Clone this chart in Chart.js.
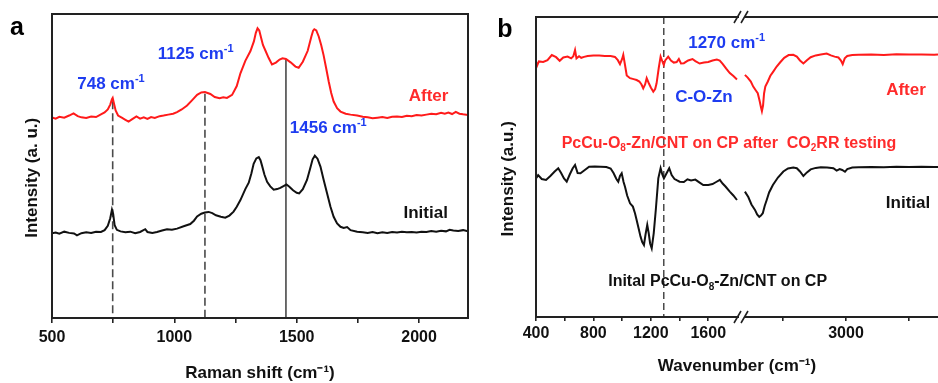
<!DOCTYPE html>
<html>
<head>
<meta charset="utf-8">
<script src="https://cdn.jsdelivr.net/npm/chart.js@4.4.1/dist/chart.umd.min.js"></script>
<style>
html,body{margin:0;padding:0;background:#fff;width:938px;height:383px;overflow:hidden}
.panel{position:absolute;top:0;height:383px}
#pa{left:0;width:480px}
#pb{left:480px;width:458px}
</style>
</head>
<body>
<div class="panel" id="pa"><canvas id="ca"></canvas></div>
<div class="panel" id="pb"><canvas id="cb"></canvas></div>
<script>
// ---------------- DATA ----------------
// Panel a : Raman spectra
const ramanAfterShift = [500,515,530,550,570,588,605,620,640,660,680,700,715,728,738,745,748,752,760,770,785,800,813,828,845,860,875,890,905,920,940,956,975,995,1011,1030,1052,1072,1093,1110,1125,1147,1165,1185,1200,1215,1236,1255,1270,1290,1311,1325,1333,1340,1347,1355,1362,1372,1385,1399,1415,1430,1442,1456,1475,1495,1508,1525,1545,1560,1567,1572,1580,1590,1600,1610,1620,1631,1641,1651,1665,1679,1700,1720,1747,1770,1790,1810,1830,1850,1870,1890,1910,1930,1950,1970,1990,2010,2030,2050,2070,2090,2105,2120,2135,2150,2165,2180,2200];
const ramanAfterIntensity = [66.0,65.6,66.2,65.9,66.6,67.3,66.4,66.0,65.8,66.3,66.1,67.0,67.6,68.6,70.2,72.0,72.4,71.0,68.3,66.6,65.9,65.2,64.6,65.4,66.3,65.6,66.0,65.5,66.1,65.8,66.4,66.6,66.9,67.2,67.7,68.6,69.9,71.6,73.4,74.2,74.3,73.7,72.7,72.3,72.6,72.4,73.4,76.3,80.5,84.6,87.8,91.0,93.8,95.3,94.6,92.0,89.8,88.0,85.6,83.4,84.0,85.0,85.4,85.2,84.1,82.7,82.3,84.3,87.9,92.6,94.5,95.0,94.6,92.6,89.8,86.4,82.3,77.7,74.0,71.2,69.0,67.9,67.2,66.9,66.6,66.2,66.0,65.7,65.9,66.1,65.8,66.2,66.3,66.1,66.5,66.4,66.8,66.6,66.9,67.2,67.0,67.5,67.2,67.6,67.1,67.8,67.2,67.0,66.8];
const ramanInitialShift = [500,515,530,550,570,590,602,620,640,660,680,700,715,728,738,745,750,756,765,780,800,820,840,860,881,890,910,929,950,970,990,1011,1038,1065,1080,1093,1110,1125,1140,1155,1170,1190,1208,1225,1242,1255,1270,1290,1304,1315,1324,1335,1345,1352,1358,1368,1379,1392,1406,1420,1433,1446,1458,1470,1485,1500,1510,1525,1542,1555,1565,1574,1585,1597,1610,1624,1638,1651,1665,1679,1692,1706,1720,1747,1770,1790,1810,1830,1850,1870,1890,1910,1930,1950,1970,1990,2010,2030,2050,2070,2090,2110,2125,2140,2160,2180,2200];
const ramanInitialIntensity = [27.9,28.1,27.7,28.4,28.0,27.8,27.2,27.9,28.2,28.0,28.4,28.3,28.9,30.3,32.8,35.6,34.2,30.5,29.0,28.5,28.2,28.4,27.9,28.3,29.2,28.3,28.0,28.3,28.8,29.2,29.0,29.4,30.2,30.9,32.0,33.4,34.3,34.7,34.9,34.5,33.8,33.3,33.0,33.7,35.0,36.6,38.8,42.4,44.5,47.6,50.7,52.5,52.9,51.9,50.2,47.2,44.8,43.3,42.2,42.4,42.8,43.4,43.9,43.2,42.0,41.2,41.0,42.4,45.4,49.2,52.2,53.4,52.4,49.8,45.5,41.0,36.6,33.3,31.1,30.0,29.6,29.9,28.9,28.4,28.2,28.0,28.3,27.9,28.2,28.0,28.3,28.1,28.4,28.2,28.3,28.1,28.4,28.3,28.6,28.4,28.7,28.5,29.0,28.8,28.6,28.9,28.5];
const ramanMarkerShift = [748, 1125, 1456];
const ramanMarkerTop = [71.3, 73.8, 85.0];
const ramanTicks = [500, 750, 1000, 1250, 1500, 1750, 2000];
const ramanTickLabels = [500, 1000, 1500, 2000];

// Panel b : FTIR spectra (broken wavenumber axis)
const ftirAfterWavenumber = [400,408,420,450,480,510,540,565,590,620,645,660,672,682,700,715,735,760,800,840,880,920,950,970,985,1000,1008,1020,1032,1055,1080,1101,1120,1135,1147,1160,1171,1185,1200,1217,1230,1240,1255,1268,1278,1290,1300,1321,1340,1360,1380,1395,1410,1430,1460,1490,1510,1540,1570,1600,1630,1660,1680,1700,1725,1750,1775,1800,
  2198,2220,2245,2264,2285,2300,2315,2325,2333,2342,2350,2360,2380,2400,2423,2450,2480,2510,2545,2582,2610,2635,2662,2690,2720,2760,2800,2847,2880,2910,2940,2960,2974,2990,3010,3050,3100,3200,3300,3400,3500,3600,3700,3730];
const ftirAfterIntensity = [85.1,83.8,85.2,85.0,85.6,87.3,86.6,85.4,86.5,86.8,86.2,86.9,89.0,86.2,86.9,86.4,86.7,87.0,87.2,87.2,87.0,87.0,86.7,85.6,84.3,86.0,87.4,84.0,80.5,79.6,79.3,79.0,78.5,77.5,76.2,77.5,79.6,78.0,76.5,75.1,76.0,77.9,83.0,86.8,85.5,84.0,85.5,86.8,85.5,84.8,85.0,86.0,84.5,84.6,85.5,86.0,85.3,84.5,84.8,85.0,85.5,85.8,85.5,84.4,82.8,81.3,80.3,79.2,
  80.7,79.8,78.5,76.8,75.5,74.6,72.0,70.0,68.6,70.5,74.5,76.8,78.5,80.4,81.8,83.5,85.0,86.4,87.3,87.4,86.8,85.5,84.5,85.6,86.6,87.2,87.5,87.8,87.2,86.8,86.5,85.5,84.3,86.2,87.0,87.3,87.4,87.5,87.3,87.6,87.5,87.5,87.4,87.5];
const ftirInitialWavenumber = [400,415,440,470,500,530,555,575,595,614,635,655,672,690,710,740,770,810,850,890,920,940,950,962,973,985,997,1010,1020,1035,1055,1075,1090,1101,1115,1128,1140,1152,1163,1175,1185,1195,1206,1220,1235,1252,1268,1280,1291,1305,1328,1345,1365,1380,1400,1430,1455,1480,1510,1540,1565,1600,1630,1655,1681,1700,1720,1750,1775,1800,
  2198,2225,2250,2278,2295,2312,2325,2340,2355,2371,2390,2420,2460,2503,2540,2582,2610,2635,2662,2690,2720,2760,2800,2850,2900,2926,2950,2970,2992,3010,3050,3100,3200,3300,3400,3500,3600,3700,3730];
const ftirInitialIntensity = [46.2,47.3,46.0,45.7,47.0,48.5,49.6,48.0,46.2,45.1,47.5,49.5,50.7,48.0,47.9,49.0,50.1,50.2,50.1,50.0,49.5,48.0,47.0,45.8,45.1,47.0,47.9,45.0,43.4,40.5,37.9,36.8,34.5,32.3,29.5,26.8,25.0,24.0,27.5,30.7,28.0,24.5,22.9,27.9,36.0,46.2,49.6,47.5,46.2,47.5,49.6,47.3,46.0,45.6,45.1,45.0,45.9,45.5,45.8,44.8,44.0,44.0,44.3,45.0,45.7,44.5,43.5,41.8,40.5,39.0,
  41.8,40.0,37.5,35.7,34.2,33.4,33.8,34.6,37.0,39.0,41.5,44.0,46.5,48.5,49.5,49.8,49.6,48.5,47.0,48.2,49.2,49.7,49.9,49.8,49.6,48.8,49.3,49.0,48.4,49.3,49.8,49.9,50.0,49.9,50.1,50.0,50.1,50.0,50.0];
const ftirMarkerWavenumber = [1290];
const ftirTicks = [400, 600, 800, 1000, 1200, 1400, 1600, 2500, 3000, 3500];
const ftirTickLabels = [400, 800, 1200, 1600, 3000];
// broken axis: low range and high range
const ftirLowRange = [400, 1835];
const ftirHighRange = [2175, 3730];

// ---------------- STYLE ----------------
const FONT = '"Liberation Sans", Arial, Helvetica, sans-serif';
const RED = '#ff1a1a';
const RED_TEXT = '#ff2b2b';
const BLUE = '#1e3cf0';
const BLACK = '#111111';
const AXIS = '#222222';
const MARK = '#4a4a4a';
Chart.defaults.font.family = FONT;
Chart.defaults.font.weight = 'bold';
Chart.defaults.color = '#111';

// ---------------- broken linear scale ----------------
const SPLIT = (742 - 536) / (938 - 536); // fraction of axis length used by the low range
class BrokenLinearScale extends Chart.LinearScale {
  _decimalFor(value) {
    const [a0, a1] = ftirLowRange, [b0, b1] = ftirHighRange;
    if (value <= a1) return (value - a0) / (a1 - a0) * SPLIT;
    if (value >= b0) return SPLIT + (value - b0) / (b1 - b0) * (1 - SPLIT);
    return SPLIT;
  }
  getPixelForValue(value) {
    if (value === null || value === undefined || isNaN(value)) return NaN;
    return this.getPixelForDecimal(this._decimalFor(value));
  }
  getValueForPixel(pixel) {
    const d = this.getDecimalForPixel(pixel);
    const [a0, a1] = ftirLowRange, [b0, b1] = ftirHighRange;
    if (d <= SPLIT) return a0 + d / SPLIT * (a1 - a0);
    return b0 + (d - SPLIT) / (1 - SPLIT) * (b1 - b0);
  }
}
BrokenLinearScale.id = 'brokenLinear';
BrokenLinearScale.defaults = Chart.LinearScale.defaults;
Chart.register(BrokenLinearScale);

// ---------------- helpers ----------------
function pairs(xs, ys) { return xs.map((x, i) => ({ x: x, y: ys[i] })); }
function pairsWithGap(xs, ys) {
  const out = [];
  xs.forEach((x, i) => {
    if (i > 0 && xs[i - 1] <= ftirLowRange[1] && x >= ftirHighRange[0]) out.push({ x: (ftirLowRange[1] + ftirHighRange[0]) / 2, y: null });
    out.push({ x: x, y: ys[i] });
  });
  return out;
}
function parseRich(str) {
  const parts = []; const re = /(\^|_)\{([^}]*)\}/g; let last = 0, m;
  while ((m = re.exec(str))) {
    if (m.index > last) parts.push({ t: str.slice(last, m.index), k: 'n' });
    parts.push({ t: m[2], k: m[1] === '^' ? 'sup' : 'sub' });
    last = re.lastIndex;
  }
  if (last < str.length) parts.push({ t: str.slice(last), k: 'n' });
  return parts;
}
function drawRich(ctx, str, x, y, size, color, align) {
  const parts = parseRich(str);
  const small = Math.round(size * 0.62);
  const fontN = 'bold ' + size + 'px ' + FONT, fontS = 'bold ' + small + 'px ' + FONT;
  let w = 0;
  parts.forEach(p => { ctx.font = p.k === 'n' ? fontN : fontS; p.w = ctx.measureText(p.t).width; w += p.w; });
  let cx = align === 'left' ? x : x - w / 2;
  const base = y + size * 0.36;
  ctx.fillStyle = color; ctx.textBaseline = 'alphabetic'; ctx.textAlign = 'left';
  parts.forEach(p => {
    ctx.font = p.k === 'n' ? fontN : fontS;
    let yy = base;
    if (p.k === 'sup') yy = base - size * 0.42;
    if (p.k === 'sub') yy = base + size * 0.22;
    ctx.fillText(p.t, cx, yy);
    cx += p.w;
  });
}
function decorPlugin(id, cfg) {
  return {
    id: id,
    afterDraw(chart) {
      const { ctx, chartArea: a } = chart;
      const xs = chart.scales.x, ys = chart.scales.y;
      ctx.save();
      // frame
      ctx.strokeStyle = AXIS; ctx.lineWidth = 2; ctx.lineCap = 'square';
      ctx.beginPath();
      ctx.moveTo(a.left, a.bottom); ctx.lineTo(a.left, a.top); ctx.lineTo(a.right, a.top);
      if (cfg.rightSide) ctx.lineTo(a.right, a.bottom);
      ctx.moveTo(a.left, a.bottom); ctx.lineTo(a.right, a.bottom);
      ctx.stroke();
      // axis break marks
      if (cfg.breakMarks) {
        const bx = xs.getPixelForDecimal(SPLIT);
        [a.top, a.bottom].forEach(yy => {
          ctx.fillStyle = '#fff';
          ctx.fillRect(bx - 3, yy - 2, 6, 4);
          ctx.strokeStyle = AXIS; ctx.lineWidth = 1.6; ctx.lineCap = 'butt';
          ctx.beginPath();
          ctx.moveTo(bx - 8, yy + 6); ctx.lineTo(bx - 1, yy - 6);
          ctx.moveTo(bx - 1, yy + 6); ctx.lineTo(bx + 6, yy - 6);
          ctx.stroke();
        });
      }
      // panel letter
      ctx.fillStyle = '#000'; ctx.font = 'bold 25px ' + FONT; ctx.textAlign = 'center'; ctx.textBaseline = 'middle';
      ctx.fillText(cfg.letter, a.left + cfg.letterDx, a.top + cfg.letterDy);
      // annotations in data coordinates
      cfg.notes.forEach(n => {
        drawRich(ctx, n.text, xs.getPixelForValue(n.x), ys.getPixelForValue(n.y), n.size, n.color, n.align || 'center');
      });
      ctx.restore();
    }
  };
}

const tickFont = { size: 16, weight: 'bold', family: FONT };
const titleFont = { size: 17, weight: 'bold', family: FONT };

// ---------------- Panel a ----------------
const ramanDatasets = [
  { label: 'After', data: pairs(ramanAfterShift, ramanAfterIntensity), borderColor: RED, borderWidth: 2, pointRadius: 0, tension: 0 },
  { label: 'Initial', data: pairs(ramanInitialShift, ramanInitialIntensity), borderColor: BLACK, borderWidth: 2, pointRadius: 0, tension: 0 }
];
ramanMarkerShift.forEach((s, i) => {
  ramanDatasets.push({
    label: 'marker ' + s, data: [{ x: s, y: ramanMarkerTop[i] }, { x: s, y: 0 }],
    borderColor: MARK, borderWidth: 1.6, pointRadius: 0, borderDash: i < 2 ? [8, 4] : []
  });
});

new Chart(document.getElementById('ca'), {
  type: 'line',
  data: { datasets: ramanDatasets },
  options: {
    responsive: true, maintainAspectRatio: false, animation: false, events: [],
    layout: { padding: { left: 20, top: 14, right: 12, bottom: 0 } },
    plugins: { legend: { display: false }, tooltip: { enabled: false } },
    scales: {
      x: {
        type: 'linear', min: 500, max: 2200,
        afterBuildTicks: s => { s.ticks = ramanTicks.map(v => ({ value: v })); },
        afterFit: s => { s.height = 65; },
        ticks: { autoSkip: false, maxRotation: 0, padding: 5, font: tickFont, color: '#111',
          callback: v => ramanTickLabels.includes(v) ? String(v) : '' },
        grid: { display: true, drawOnChartArea: false, drawTicks: true, tickLength: 5, color: AXIS, lineWidth: 1.6 },
        border: { display: false },
        title: { display: true, text: 'Raman shift (cm⁻¹)', font: titleFont, color: '#111', padding: { top: 0, bottom: -1 } }
      },
      y: {
        min: 0, max: 100,
        afterFit: s => { s.width = 32; },
        ticks: { display: false }, grid: { display: false }, border: { display: false },
        title: { display: true, text: 'Intensity (a. u.)     ', font: titleFont, color: '#111', padding: { top: 2, bottom: 0 } }
      }
    }
  },
  plugins: [decorPlugin('decorA', {
    rightSide: true, breakMarks: false, letter: 'a', letterDx: -35, letterDy: 14,
    notes: [
      { text: '748 cm^{-1}', x: 741, y: 77.4, size: 17, color: BLUE },
      { text: '1125 cm^{-1}', x: 1087, y: 87.3, size: 17, color: BLUE },
      { text: '1456 cm^{-1}', x: 1629, y: 62.9, size: 17, color: BLUE },
      { text: 'After', x: 2039, y: 73.4, size: 17, color: RED_TEXT },
      { text: 'Initial', x: 2027, y: 35.0, size: 17, color: BLACK }
    ]
  })]
});

// ---------------- Panel b ----------------
const ftirDatasets = [
  { label: 'After', data: pairsWithGap(ftirAfterWavenumber, ftirAfterIntensity), borderColor: RED, borderWidth: 2, pointRadius: 0, tension: 0, spanGaps: false },
  { label: 'Initial', data: pairsWithGap(ftirInitialWavenumber, ftirInitialIntensity), borderColor: BLACK, borderWidth: 2, pointRadius: 0, tension: 0, spanGaps: false }
];
ftirMarkerWavenumber.forEach(w => {
  ftirDatasets.push({ label: 'marker ' + w, data: [{ x: w, y: 100 }, { x: w, y: 0 }],
    borderColor: MARK, borderWidth: 1.5, pointRadius: 0, borderDash: [7, 4] });
});

new Chart(document.getElementById('cb'), {
  type: 'line',
  data: { datasets: ftirDatasets },
  options: {
    responsive: true, maintainAspectRatio: false, animation: false, events: [],
    layout: { padding: { left: 16, top: 17, right: 0, bottom: 0 } },
    plugins: { legend: { display: false }, tooltip: { enabled: false } },
    scales: {
      x: {
        type: 'brokenLinear', min: ftirLowRange[0], max: ftirHighRange[1],
        afterBuildTicks: s => { s.ticks = ftirTicks.map(v => ({ value: v })); },
        afterFit: s => { s.height = 66; },
        ticks: { autoSkip: false, maxRotation: 0, padding: 3, font: tickFont, color: '#111',
          callback: v => ftirTickLabels.includes(v) ? String(v) : '' },
        grid: { display: true, drawOnChartArea: false, drawTicks: true, tickLength: 4, color: AXIS, lineWidth: 1.6 },
        border: { display: false },
        title: { display: true, text: 'Wavenumber (cm⁻¹)', font: titleFont, color: '#111', padding: { top: 0, bottom: 6 } }
      },
      y: {
        min: 0, max: 100,
        afterFit: s => { s.width = 40; },
        ticks: { display: false }, grid: { display: false }, border: { display: false },
        title: { display: true, text: 'Intensity (a.u.)     ', font: titleFont, color: '#111', padding: { top: 2, bottom: 0 } }
      }
    }
  },
  plugins: [decorPlugin('decorB', {
    rightSide: false, breakMarks: true, letter: 'b', letterDx: -31, letterDy: 13,
    notes: [
      { text: '1270 cm^{-1}', x: 1728, y: 91.8, size: 17, color: BLUE },
      { text: 'C-O-Zn', x: 1570, y: 73.7, size: 17, color: BLUE },
      { text: 'After', x: 3476, y: 76.2, size: 17, color: RED_TEXT },
      { text: 'PcCu-O_{8}-Zn/CNT on CP after  CO_{2}RR testing', x: 579, y: 58.4, size: 16, color: RED_TEXT, align: 'left' },
      { text: 'Initial', x: 3492, y: 38.4, size: 17, color: BLACK },
      { text: 'Inital PcCu-O_{8}-Zn/CNT on CP', x: 903, y: 12.1, size: 16, color: BLACK, align: 'left' }
    ]
  })]
});
</script>
</body>
</html>
